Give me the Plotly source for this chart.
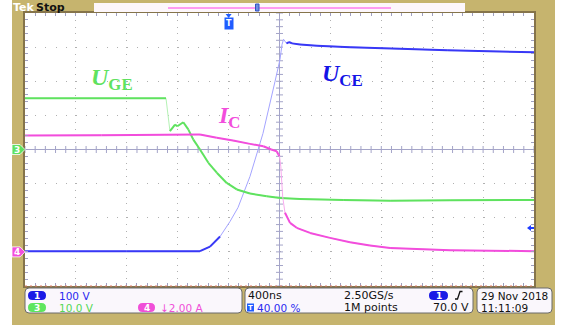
import numpy as np
import plotly.graph_objects as go

# ---------------- data read from the screen ----------------
# time in ns (trigger at t = 0), 400 ns/div, trigger position 40 %
time_per_div = 400
trigger_pos = 0.40
n_xdiv, n_ydiv = 10, 8

# channel 1 : U_CE (100 V/div, ground 3 div below centre)
ch1_scale, ch1_gnd = 100, -3
t_uce = [-1600, -800, -225, -146, -67, 11, 74, 168, 270, 365, 404, 420, 432, 455, 475, 498,
         561, 695, 954, 1347, 1717, 2400]
u_ce = [2, 2, 2, 15.5, 45, 89, 130, 221, 347, 500, 564, 608, 623, 611, 615, 611,
        608, 604, 600, 595, 591, 585]

# channel 3 : U_GE (10 V/div, ground at centre)
ch3_scale, ch3_gnd = 10, 0
t_uge = [-1600, -492, -461, -421, -403, -356, -317, -277, -225, -159, -93, -15, 64, 168,
         300, 404, 561, 900, 1269, 1740, 2400]
u_ge = [15.0, 15.0, 5.4, 7.3, 6.8, 8.0, 5.9, 2.9, 0.0, -3.9, -6.8, -9.8, -11.7, -12.9,
        -13.7, -14.2, -14.5, -14.8, -15.0, -14.9, -14.8]

# channel 4 : I_C (2 A/div, ground 3 div below centre)
ch4_scale, ch4_gnd = 2, -3
t_ic = [-1600, -1000, -500, -225, -93, 35, 168, 273, 335, 378, 391, 400, 410, 418, 425,
        443, 483, 535, 640, 797, 954, 1111, 1269, 1740, 2400]
i_c = [6.82, 6.84, 6.86, 6.88, 6.69, 6.53, 6.33, 6.19, 6.0, 5.9, 5.71, 5.61, 5.02, 4.24, 3.24,
       2.29, 1.70, 1.41, 1.11, 0.82, 0.56, 0.37, 0.23, 0.10, 0.04]

trig_level = 70  # V on channel 1

# read-out texts
ch_readout = ["100 V", "10.0 V", "↓2.00 A"]
time_readout = ["400ns", "40.00 %"]
acq_readout = ["2.50GS/s", "1M points"]
trig_readout = "70.0 V"
date_readout = ["29 Nov 2018", "11:11:09"]

# ---------------- geometry / styling ----------------
W, H = 567, 327
PL, PR, PT, PB = 25, 534, 13, 286
TAN = "#c6b46e"
BLUE, GREEN, MAG = "#3838f6", "#5fe25f", "#f24ddc"
BLUE_F, GREEN_F, MAG_F = "#a4a4ff", "#b4f2b4", "#f8aaee"


def fx(x):
    return (x - PL) / (PR - PL)


def fy(y):
    return (PB - y) / (PB - PT)


def rng(scale, gnd):
    return [(-n_ydiv / 2 - gnd) * scale, (n_ydiv / 2 - gnd) * scale]


t_range = [-trigger_pos * n_xdiv * time_per_div, (1 - trigger_pos) * n_xdiv * time_per_div]
r1, r3, r4 = rng(ch1_scale, ch1_gnd), rng(ch3_scale, ch3_gnd), rng(ch4_scale, ch4_gnd)


def dense(t, v, scale, thr):
    xs, ys = [], []
    for i in range(len(t) - 1):
        dx = (t[i + 1] - t[i]) / time_per_div
        dy = (v[i + 1] - v[i]) / scale
        if abs(dy) <= thr * abs(dx):
            xs += [t[i], t[i + 1], None]
            ys += [v[i], v[i + 1], None]
    return xs, ys


fig = go.Figure()

# centre cross-hair
xc = sum(t_range) / 2
yc = sum(r1) / 2
cross = "#a4a4c8"
fig.add_trace(go.Scatter(x=t_range, y=[yc, yc], mode="lines", line=dict(color=cross, width=1), yaxis="y"))
fig.add_trace(go.Scatter(x=[xc, xc], y=r1, mode="lines", line=dict(color=cross, width=1), yaxis="y"))
xt = np.arange(t_range[0], t_range[1] + 1, time_per_div / 5)
fig.add_trace(go.Scatter(x=xt, y=[yc] * len(xt), mode="markers", yaxis="y",
                         marker=dict(symbol="line-ns", size=5, line=dict(width=1, color=cross))))
yt = np.arange(r1[0], r1[1] + 1, ch1_scale / 5)
fig.add_trace(go.Scatter(x=[xc] * len(yt), y=yt, mode="markers", yaxis="y",
                         marker=dict(symbol="line-ew", size=5, line=dict(width=1, color=cross))))

# waveforms
for t, v, sc, ax, c, cf, thr in [(t_uce, u_ce, ch1_scale, "y", BLUE, BLUE_F, 2.0),
                                 (t_uge, u_ge, ch3_scale, "y2", GREEN, GREEN_F, 3.0),
                                 (t_ic, i_c, ch4_scale, "y3", MAG, MAG_F, 3.0)]:
    fig.add_trace(go.Scatter(x=t, y=v, mode="lines", yaxis=ax, line=dict(color=cf, width=1)))
    dx, dy = dense(t, v, sc, thr)
    fig.add_trace(go.Scatter(x=dx, y=dy, mode="lines", yaxis=ax, connectgaps=False,
                             line=dict(color=c, width=2)))

grid_c = "#b0b0b0"
frame_c = "#85744a"
tick_c = "#a0a0c0"
fig.update_layout(
    width=W, height=H,
    margin=dict(l=PL, r=W - PR, t=PT, b=H - PB),
    paper_bgcolor=TAN, plot_bgcolor="white",
    showlegend=False, hovermode=False,
    xaxis=dict(range=t_range, dtick=time_per_div, tick0=0, showgrid=True, gridcolor=grid_c,
               griddash="1px,5.8px", zeroline=False, showticklabels=False,
               showline=True, linecolor=frame_c, linewidth=1.5, mirror="allticks",
               ticks="inside", ticklen=3, tickcolor=tick_c,
               minor=dict(dtick=time_per_div / 5, ticks="inside", ticklen=3, tickcolor=tick_c, showgrid=False)),
    yaxis=dict(range=r1, dtick=ch1_scale, tick0=0, showgrid=True, gridcolor=grid_c,
               griddash="1px,9.2px", zeroline=False, showticklabels=False,
               showline=True, linecolor=frame_c, linewidth=1.5, mirror="allticks",
               ticks="inside", ticklen=3, tickcolor=tick_c,
               minor=dict(dtick=ch1_scale / 5, ticks="inside", ticklen=3, tickcolor=tick_c, showgrid=False)),
    yaxis2=dict(range=r3, overlaying="y", visible=False),
    yaxis3=dict(range=r4, overlaying="y", visible=False),
)

shapes = []
annots = []


def rrect(x0, y0, x1, y1, r, fill, line=None, lw=1):
    a, b, c, d = fx(x0), fx(x1), fy(y0), fy(y1)
    rx, ry = r / (PR - PL), r / (PB - PT)
    p = (f"M{a+rx},{c} L{b-rx},{c} Q{b},{c} {b},{c-ry} L{b},{d+ry} Q{b},{d} {b-rx},{d} "
         f"L{a+rx},{d} Q{a},{d} {a},{d+ry} L{a},{c-ry} Q{a},{c} {a+rx},{c} Z")
    shapes.append(dict(type="path", path=p, xref="paper", yref="paper", fillcolor=fill,
                       line=dict(color=line or fill, width=lw if line else 0), layer="above"))


def txt(s, x, y, color="#111", size=11, xanchor="left", family="DejaVu Sans", bg=None, yref="paper"):
    annots.append(dict(text=s, x=fx(x), y=fy(y) if yref == "paper" else y, xref="paper", yref=yref,
                       xanchor=xanchor, yanchor="middle", showarrow=False, bgcolor=bg, borderpad=0,
                       font=dict(family=family, size=size, color=color)))


# white strips outside the tan frame
for x0, y0, x1, y1 in [(0, 0, 12, H), (555, 0, W, H), (0, 325, W, H)]:
    shapes.append(dict(type="rect", xref="paper", yref="paper", x0=fx(x0), x1=fx(x1), y0=fy(y1), y1=fy(y0),
                       fillcolor="white", line=dict(width=0), layer="below"))

# top status bar
txt("<b>Tek</b>", 12, 7, color="white", size=11)
txt("<b>Stop</b>", 35, 7, color="#111", size=11)
shapes.append(dict(type="rect", xref="paper", yref="paper", x0=fx(94), x1=fx(465), y0=fy(12), y1=fy(3),
                   fillcolor="#fdf7fb", line=dict(width=0)))
shapes.append(dict(type="line", xref="paper", yref="paper", x0=fx(168), x1=fx(391), y0=fy(8), y1=fy(8),
                   line=dict(color="#ff7cee", width=1.5)))
shapes.append(dict(type="rect", xref="paper", yref="paper", x0=fx(255.5), x1=fx(259), y0=fy(11), y1=fy(4),
                   fillcolor="#6f8fe0", line=dict(color="#3050c0", width=1)))

# trigger position marker
tw = 3 * time_per_div / ((PR - PL) / n_xdiv)
shapes.append(dict(type="path", xref="x", yref="paper",
                   path=f"M{-tw},{fy(14)} L{tw},{fy(14)} L0,{fy(18)} Z",
                   fillcolor="#1f5cff", line=dict(width=0)))
annots.append(dict(text="<b>T</b>", x=0, y=fy(17), xref="x", yref="paper", xanchor="center", yanchor="top",
                   showarrow=False, bgcolor="#1f5cff", borderpad=1,
                   font=dict(family="DejaVu Sans", size=8, color="white")))

# ground markers (left)
for lab, ax, col in [("3", "y2", GREEN), ("4", "y3", MAG)]:
    yd = 5 / ((PB - PT) / n_ydiv) * (ch3_scale if ax == "y2" else ch4_scale)
    shapes.append(dict(type="path", xref="paper", yref=ax,
                       path=f"M{fx(12)},{-yd} L{fx(20)},{-yd} L{fx(25)},0 L{fx(20)},{yd} L{fx(12)},{yd} Z",
                       fillcolor=col, line=dict(color="white", width=0.8)))
    annots.append(dict(text=f"<b>{lab}</b>", x=fx(16.5), y=0, xref="paper", yref=ax, xanchor="center",
                       yanchor="middle", showarrow=False,
                       font=dict(family="DejaVu Sans", size=9, color="white")))

# trigger level marker (right)
yd = 3 / ((PB - PT) / n_ydiv) * ch1_scale
shapes.append(dict(type="path", xref="paper", yref="y",
                   path=f"M{fx(527)},{trig_level} L{fx(531)},{trig_level + yd} L{fx(531)},{trig_level - yd} Z",
                   fillcolor="#1f3cff", line=dict(width=0)))
shapes.append(dict(type="line", xref="paper", yref="y", x0=fx(530), x1=fx(534), y0=trig_level, y1=trig_level,
                   line=dict(color="#1f3cff", width=2)))

# dotted bottom edge
shapes.append(dict(type="line", xref="paper", yref="paper", x0=0, x1=1, y0=0, y1=0,
                   line=dict(color="#e07a6a", width=1, dash="2px,3px")))

# read-out boxes
box_fill, box_line = "#faf7fc", "#6a6a6a"
rrect(25, 288, 242, 313, 4, box_fill, box_line, 1)
rrect(245, 288, 473, 313, 4, box_fill, box_line, 1)
rrect(477, 288, 552, 313, 4, box_fill, box_line, 1)

r1y, r2y = 295.5, 307.5
for x0, x1, yy, col, lab in [(28, 46, r1y, "#1a1ae6", "1"), (28, 46, r2y, "#5ee65e", "3"),
                             (138, 155, r2y, "#f04fd8", "4"), (429, 448, r1y, "#1a1ae6", "1")]:
    rrect(x0, yy - 4.5, x1, yy + 4.5, 4.5, col)
    txt(f"<b>{lab}</b>", (x0 + x1) / 2, yy, color="white", size=9, xanchor="center")

txt(ch_readout[0], 58, r1y, color="#2a2af0", size=10.5)
txt(ch_readout[1], 58, r2y, color="#55d855", size=10.5)
txt(ch_readout[2], 159, r2y, color="#f04fd8", size=10.5)
txt(time_readout[0], 247, r1y, color="#111", size=11)
shapes.append(dict(type="rect", xref="paper", yref="paper", x0=fx(247), x1=fx(254), y0=fy(r2y + 4),
                   y1=fy(r2y - 4), fillcolor="#1f5cff", line=dict(width=0)))
txt("<b>T</b>", 250.5, r2y, color="white", size=7, xanchor="center")
txt(time_readout[1], 256, r2y, color="#2a2af0", size=10.5)
txt(acq_readout[0], 343, r1y, color="#111", size=11)
txt(acq_readout[1], 343, r2y, color="#111", size=11)
txt(trig_readout, 470, r2y, color="#111", size=11, xanchor="right")
shapes.append(dict(type="path", xref="paper", yref="paper",
                   path=f"M{fx(455)},{fy(299)} L{fx(457.5)},{fy(299)} L{fx(460)},{fy(291.5)} L{fx(462.5)},{fy(291.5)}",
                   line=dict(color="#111", width=1.3)))
txt(date_readout[0], 480, r1y, color="#111", size=10.5)
txt(date_readout[1], 480, r2y, color="#111", size=10.5)

# waveform labels
lab_font = "Liberation Serif"
txt("<b><i>U</i><sub>GE</sub></b>", 112, 79, color=GREEN, size=24, xanchor="center", family=lab_font)
txt("<b><i>I</i><sub>C</sub></b>", 229, 117, color=MAG, size=24, xanchor="center", family=lab_font)
txt("<b><i>U</i><sub>CE</sub></b>", 342, 75, color="#1414e6", size=24, xanchor="center", family=lab_font)

fig.update_layout(shapes=shapes, annotations=annots)
fig.write_html("out.html")
